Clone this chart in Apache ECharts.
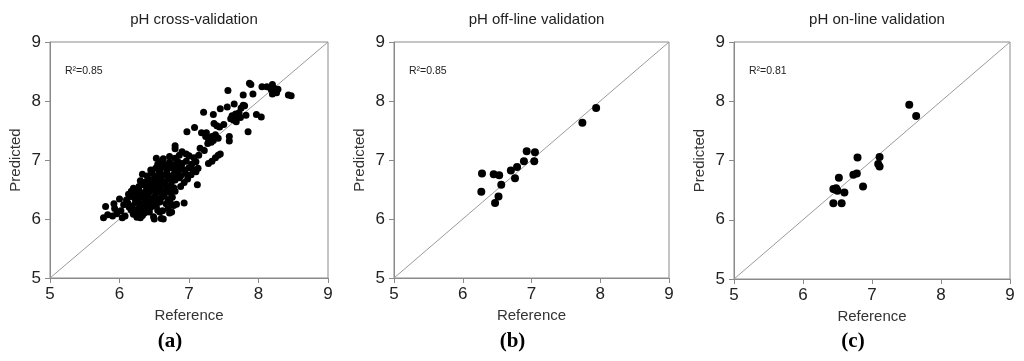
<!DOCTYPE html>
<html>
<head>
<meta charset="utf-8">
<script src="https://cdn.jsdelivr.net/npm/echarts@6/dist/echarts.min.js"></script>
<style>html,body{margin:0;padding:0;background:#fff}#c{width:1024px;height:361px}</style>
</head>
<body>
<div id="c"></div>
<script>
// ---- Data (Reference, Predicted) ----
var titles = ['pH cross-validation', 'pH off-line validation', 'pH on-line validation'];
var panelLabels = ['(a)', '(b)', '(c)'];
var r2Labels = ['R\u00B2=0.85', 'R\u00B2=0.85', 'R\u00B2=0.81'];
var axisTicks = [5, 6, 7, 8, 9];
var xName = 'Reference';
var yName = 'Predicted';

var crossVal = [
  [5.77,6.02],[5.83,6.07],[5.90,6.05],[5.96,6.09],[6.04,6.02],[6.08,6.05],[6.25,6.03],[6.28,6.07],[6.30,6.02],[6.33,6.06],[6.36,6.10],[6.49,6.04],[6.50,6.00],[6.60,6.01],[6.63,6.00],[6.72,6.10],[6.30,6.10],[6.20,6.08],
  [5.80,6.21],[5.93,6.18],[6.02,6.14],[6.17,6.15],[6.22,6.12],[6.27,6.18],[6.34,6.13],[6.40,6.17],[6.45,6.20],[6.55,6.15],[6.58,6.12],[6.62,6.14],[6.70,6.18],[6.75,6.12],[6.26,6.15],[6.43,6.12],
  [5.92,6.26],[6.06,6.24],[6.12,6.27],[6.18,6.22],[6.23,6.28],[6.30,6.25],[6.35,6.22],[6.38,6.28],[6.44,6.24],[6.50,6.27],[6.53,6.22],[6.58,6.29],[6.67,6.26],[6.73,6.28],[6.78,6.23],[6.82,6.25],[6.93,6.27],[6.48,6.30],[6.14,6.20],
  [6.00,6.34],[6.10,6.32],[6.16,6.38],[6.22,6.35],[6.27,6.32],[6.32,6.38],[6.36,6.34],[6.40,6.39],[6.45,6.33],[6.50,6.37],[6.55,6.32],[6.60,6.36],[6.64,6.39],[6.70,6.33],[6.76,6.37],[6.19,6.40],
  [6.13,6.42],[6.17,6.47],[6.22,6.44],[6.28,6.48],[6.33,6.42],[6.37,6.46],[6.42,6.44],[6.47,6.49],[6.52,6.43],[6.57,6.47],[6.62,6.42],[6.66,6.48],[6.72,6.45],[6.80,6.47],[6.26,6.41],
  [6.20,6.52],[6.28,6.55],[6.34,6.58],[6.39,6.53],[6.44,6.57],[6.49,6.52],[6.54,6.58],[6.58,6.54],[6.63,6.59],[6.68,6.52],[6.73,6.56],[6.78,6.53],[6.88,6.55],[7.12,6.58],[6.40,6.60],
  [6.30,6.65],[6.36,6.62],[6.41,6.68],[6.46,6.63],[6.50,6.69],[6.55,6.64],[6.60,6.67],[6.65,6.62],[6.70,6.68],[6.75,6.63],[6.80,6.66],[6.86,6.70],[6.93,6.62],[6.98,6.68],[6.52,6.61],
  [6.33,6.76],[6.40,6.73],[6.47,6.78],[6.52,6.72],[6.57,6.77],[6.63,6.74],[6.68,6.79],[6.73,6.72],[6.78,6.76],[6.84,6.79],[6.88,6.73],[6.95,6.77],[7.03,6.75],[7.10,6.80],
  [6.45,6.83],[6.52,6.86],[6.58,6.82],[6.62,6.88],[6.68,6.84],[6.74,6.87],[6.80,6.82],[6.86,6.88],[6.92,6.84],[7.00,6.87],[7.06,6.83],[7.13,6.86],
  [6.55,6.93],[6.60,6.97],[6.66,6.92],[6.72,6.96],[6.78,6.92],[6.84,6.97],[6.90,6.94],[6.96,6.98],[7.04,6.93],[7.10,6.97],[7.28,6.94],[7.33,6.98],
  [6.53,7.03],[6.63,7.02],[6.72,7.06],[6.80,7.03],[6.86,7.08],[6.96,7.10],[7.00,7.07],[7.07,7.04],[7.14,7.08],[7.38,7.04],[7.42,7.08],[7.45,7.10],
  [6.80,7.19],[6.80,7.24],[6.90,7.14],[7.16,7.20],[7.22,7.16],[7.27,7.28],[7.32,7.30],
  [7.08,7.55],[6.97,7.48],[7.21,7.81],[7.24,7.40],[7.25,7.46],[7.28,7.35],[7.35,7.33],[7.36,7.62],[7.40,7.58],[7.44,7.56],[7.33,7.40],[7.38,7.43],[7.42,7.37],[7.35,7.77],[7.45,7.87],[7.55,7.90],[7.56,8.18],[7.58,7.40],[7.58,7.32],[7.62,7.75],[7.67,7.78],[7.70,7.73],[7.72,7.80],[7.60,7.70],[7.64,7.68],[7.68,7.65],[7.75,7.88],[7.78,7.93],[7.80,7.92],[7.74,7.72],[7.82,7.76],[7.85,7.48],[7.87,8.30],[7.89,8.28],[7.92,8.12],[7.78,8.10],[7.97,7.77],[8.04,7.73],[8.05,8.24],[8.12,8.24],[8.18,8.20],[8.20,8.28],[8.22,8.22],[8.25,8.18],[8.20,8.12],[8.26,8.14],[8.28,8.20],[8.43,8.10],[8.47,8.09],[7.50,7.60],[7.18,7.46],[7.65,7.95]
];

var offlineVal = [
  [6.28,6.77],[6.27,6.46],[6.45,6.76],[6.53,6.74],[6.56,6.58],[6.52,6.38],[6.47,6.27],[6.70,6.82],[6.79,6.88],[6.76,6.69],[6.89,6.98],[6.93,7.15],[7.05,7.13],[7.04,6.98],[7.74,7.63],[7.94,7.88]
];

var onlineVal = [
  [6.44,6.52],[6.48,6.53],[6.52,6.71],[6.50,6.49],[6.44,6.28],[6.56,6.28],[6.60,6.46],[6.73,6.76],[6.78,6.78],[6.79,7.05],[6.87,6.56],[7.11,7.06],[7.09,6.94],[7.11,6.90],[7.54,7.94],[7.64,7.75],[6.47,6.51]
];

var diagonal = [[5,5],[9,9]];

// ---- Layout ----
var grids = [
  {left: 50, top: 42, width: 278, height: 236},
  {left: 394, top: 42, width: 275, height: 236},
  {left: 734, top: 42, width: 276, height: 237}
];
var datasets = [crossVal, offlineVal, onlineVal];
var symSizes = [7, 8, 8];
var axisColor = '#8a8a8a';
var textColor = '#222';
var font = 'Liberation Sans, Arial, sans-serif';

var option = {
  animation: false,
  backgroundColor: '#fff',
  title: [], grid: [], xAxis: [], yAxis: [], series: [], graphic: []
};

grids.forEach(function (g, i) {
  option.grid.push({left: g.left, top: g.top, width: g.width, height: g.height,
    show: true, borderColor: axisColor, borderWidth: 1, containLabel: false});
  option.title.push({text: titles[i], left: g.left + g.width / 2, top: 7, textAlign: 'center',
    textStyle: {fontSize: 15, fontWeight: 'normal', color: textColor, fontFamily: font}});
  var axisCommon = {
    type: 'value', gridIndex: i, min: axisTicks[0], max: axisTicks[axisTicks.length - 1], interval: 1,
    nameLocation: 'middle',
    nameTextStyle: {fontSize: 15, color: '#333', fontFamily: font},
    axisLine: {show: true, lineStyle: {color: axisColor, width: 1}},
    axisTick: {show: true, inside: false, length: 5, lineStyle: {color: axisColor}},
    splitLine: {show: false},
    axisLabel: {fontSize: 17, color: textColor, fontFamily: font}
  };
  option.xAxis.push(Object.assign({}, axisCommon, {name: xName, nameGap: 27,
    axisLabel: Object.assign({}, axisCommon.axisLabel, {margin: 8})}));
  option.yAxis.push(Object.assign({}, axisCommon, {name: yName, nameGap: 27,
    axisLabel: Object.assign({}, axisCommon.axisLabel, {margin: 9})}));
  option.series.push({type: 'line', xAxisIndex: i, yAxisIndex: i, data: diagonal, symbol: 'none',
    lineStyle: {color: '#9a9a9a', width: 1}, silent: true, z: 1});
  option.series.push({type: 'scatter', xAxisIndex: i, yAxisIndex: i, data: datasets[i],
    symbol: 'circle', symbolSize: symSizes[i], itemStyle: {color: '#000', opacity: 1}, z: 3});
  option.graphic.push({type: 'text', left: g.left + 15, top: 66,
    style: {text: r2Labels[i], fontSize: 10.5, fill: textColor, fontFamily: font}});
  option.graphic.push({type: 'text', x: g.left + g.width / 2 - 19, y: 342,
    style: {text: panelLabels[i], fontSize: 21, fontWeight: 'bold', fill: '#000',
      fontFamily: 'Liberation Serif, Times New Roman, serif', align: 'center', verticalAlign: 'middle'}});
});

var chart = echarts.init(document.getElementById('c'), null, {renderer: 'canvas'});
chart.setOption(option);
</script>
</body>
</html>
